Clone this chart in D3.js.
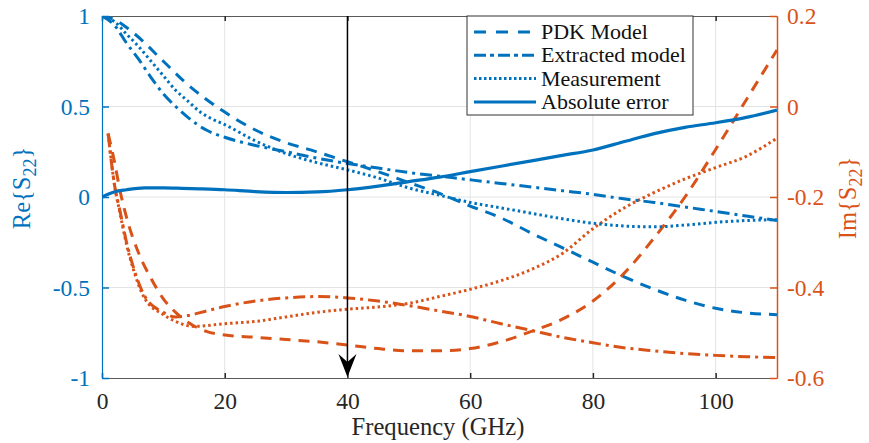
<!DOCTYPE html>
<html><head><meta charset="utf-8">
<script src="https://cdn.jsdelivr.net/npm/d3@7"></script>
<style>body{margin:0;background:#fff}svg{display:block}</style>
</head><body>
<svg id="c" width="869" height="443"></svg>
<script>
// ---- data ----
const xTicks = [0, 20, 40, 60, 80, 100];
const reTicks = [-1, -0.5, 0, 0.5, 1];
const imTicks = [-0.6, -0.4, -0.2, 0, 0.2];
const reTickLabels = ["-1", "-0.5", "0", "0.5", "1"];
const imTickLabels = ["-0.6", "-0.4", "-0.2", "0", "0.2"];
const legendLabels = ["PDK Model", "Extracted model", "Measurement", "Absolute error"];

// Re{S22}
const rePdkF = [0, 2, 5, 10, 13.5, 16.7, 19.5, 25, 30, 34, 40, 45, 50, 55, 60, 65, 70, 75, 80, 85, 90, 95, 100, 105, 110];
const rePdkV = [1.0, 0.98, 0.91, 0.75, 0.635, 0.547, 0.48, 0.37, 0.30, 0.26, 0.195, 0.14, 0.08, 0.02, -0.05, -0.115, -0.2, -0.28, -0.36, -0.44, -0.51, -0.57, -0.615, -0.64, -0.65];
const reExtF = [0, 2, 4, 6, 8, 10, 12, 14, 17, 20, 25, 30, 35, 40, 45, 50, 55, 60, 65, 70, 75, 80, 85, 90, 95, 100, 105, 110];
const reExtV = [1.0, 0.95, 0.85, 0.76, 0.66, 0.57, 0.5, 0.44, 0.37, 0.33, 0.285, 0.25, 0.215, 0.185, 0.16, 0.135, 0.115, 0.095, 0.075, 0.055, 0.035, 0.015, -0.01, -0.03, -0.055, -0.08, -0.105, -0.13];
const reMeasF = [0, 2, 4, 6, 8, 10, 12, 14, 16, 18, 20, 25, 30, 35, 40, 45, 50, 55, 60, 65, 70, 75, 80, 85, 90, 95, 100, 105, 110];
const reMeasV = [1.0, 0.97, 0.9, 0.83, 0.75, 0.67, 0.59, 0.53, 0.47, 0.43, 0.4, 0.31, 0.24, 0.19, 0.15, 0.105, 0.05, 0.01, -0.03, -0.06, -0.09, -0.12, -0.145, -0.16, -0.165, -0.155, -0.14, -0.13, -0.125];
const reErrF = [0, 1, 2, 4, 7, 10, 13, 16, 20, 25, 30, 35, 40, 45, 50, 55, 60, 65, 70, 75, 80, 85, 90, 95, 100, 105, 110];
const reErrV = [0.0, 0.015, 0.028, 0.04, 0.05, 0.05, 0.048, 0.045, 0.04, 0.03, 0.025, 0.028, 0.04, 0.06, 0.085, 0.11, 0.14, 0.17, 0.2, 0.23, 0.26, 0.305, 0.35, 0.385, 0.41, 0.44, 0.48];

// Im{S22}
const imPdkF = [1, 2, 3, 4, 6, 8, 10, 12, 14, 17, 20, 25, 30, 35, 40, 45, 50, 55, 60, 65, 70, 75, 80, 85, 90, 95, 100, 105, 110];
const imPdkV = [-0.06, -0.12, -0.19, -0.245, -0.325, -0.38, -0.425, -0.455, -0.477, -0.497, -0.505, -0.51, -0.515, -0.52, -0.527, -0.535, -0.54, -0.54, -0.535, -0.52, -0.497, -0.47, -0.43, -0.37, -0.29, -0.2, -0.095, 0.015, 0.125];
const imExtF = [1, 2, 3, 4, 5, 7, 10, 12, 14, 17, 20, 25, 30, 35, 40, 45, 50, 55, 60, 65, 70, 75, 80, 85, 90, 95, 100, 105, 110];
const imExtV = [-0.06, -0.17, -0.235, -0.3, -0.35, -0.42, -0.455, -0.465, -0.462, -0.452, -0.442, -0.43, -0.423, -0.42, -0.423, -0.43, -0.44, -0.452, -0.464, -0.48, -0.495, -0.51, -0.522, -0.533, -0.54, -0.546, -0.55, -0.553, -0.555];
const imMeasF = [1, 2, 3, 4, 5, 7, 10, 12, 15, 20, 25, 30, 35, 40, 45, 50, 55, 60, 65, 70, 75, 80, 85, 90, 95, 100, 105, 110];
const imMeasV = [-0.06, -0.17, -0.24, -0.305, -0.355, -0.425, -0.46, -0.475, -0.486, -0.48, -0.475, -0.465, -0.455, -0.448, -0.443, -0.435, -0.42, -0.404, -0.385, -0.36, -0.325, -0.27, -0.225, -0.19, -0.16, -0.135, -0.11, -0.07];

// ---- drawing ----
const FONT = "'Liberation Serif', 'Times New Roman', 'DejaVu Serif', serif";
const FS = "23.5px", LFS = "24.5px";
const BLUE = "#0072BD", ORANGE = "#D95319";
const svg = d3.select("#c").style("font-family", FONT);
const x = d3.scaleLinear().domain([0, 110]).range([102, 777]);
const yL = d3.scaleLinear().domain([-1, 1]).range([378, 16]);
const yR = d3.scaleLinear().domain([-0.6, 0.2]).range([378, 16]);

svg.append("defs").append("clipPath").attr("id", "clip")
  .append("rect").attr("x", 102).attr("y", 16).attr("width", 675).attr("height", 362);

// grid
const grid = svg.append("g").attr("stroke", "#e3e3e3").attr("stroke-width", 1);
xTicks.slice(1).forEach(t => grid.append("line").attr("x1", x(t)).attr("x2", x(t)).attr("y1", 16).attr("y2", 378));
reTicks.slice(1, -1).forEach(t => grid.append("line").attr("x1", 102).attr("x2", 777).attr("y1", yL(t)).attr("y2", yL(t)));

function styleText(sel, color) {
  sel.style("font-family", FONT).style("font-size", FS).attr("fill", color);
}

// axes
const gB = svg.append("g").attr("transform", "translate(0,378)")
  .call(d3.axisBottom(x).tickValues(xTicks).tickSize(-5).tickSizeOuter(0).tickPadding(14).tickFormat(d3.format("d")));
const gT = svg.append("g").attr("transform", "translate(0,16)")
  .call(d3.axisTop(x).tickValues(xTicks).tickSize(-5).tickSizeOuter(0).tickFormat(""));
[gB, gT].forEach(g => { g.select(".domain").attr("stroke", "#5a5a5a").attr("stroke-width", 1.2); g.selectAll(".tick line").attr("stroke", "#262626").attr("stroke-width", 1.5); });
styleText(gB.selectAll("text"), "#262626");

const gL = svg.append("g").attr("transform", "translate(102,0)")
  .call(d3.axisLeft(yL).tickValues(reTicks).tickSize(-7).tickSizeOuter(0).tickPadding(12).tickFormat((d, i) => reTickLabels[i]));
gL.select(".domain").attr("stroke", BLUE).attr("stroke-width", 1.2);
gL.selectAll(".tick line").attr("stroke", BLUE).attr("stroke-width", 1.5);
styleText(gL.selectAll("text"), BLUE);

const gR = svg.append("g").attr("transform", "translate(777,0)")
  .call(d3.axisRight(yR).tickValues(imTicks).tickSize(-7).tickSizeOuter(0).tickPadding(10).tickFormat((d, i) => imTickLabels[i]));
gR.select(".domain").attr("stroke", ORANGE).attr("stroke-width", 1.5);
gR.selectAll(".tick line").attr("stroke", ORANGE).attr("stroke-width", 1.5);
styleText(gR.selectAll("text"), ORANGE);

// series
const DASH = "11,8", DASHDOT = "12,5,3,5", DOT = "2.5,3";
const plot = svg.append("g").attr("clip-path", "url(#clip)");
function draw(F, V, y, color, dash, w) {
  const pts = F.map((f, i) => [f, V[i]]);
  plot.append("path").datum(pts)
    .attr("d", d3.line().x(d => x(d[0])).y(d => y(d[1])).curve(d3.curveMonotoneX))
    .attr("fill", "none").attr("stroke", color).attr("stroke-width", w || 3)
    .attr("stroke-dasharray", dash);
}
draw(imPdkF, imPdkV, yR, ORANGE, DASH);
draw(imExtF, imExtV, yR, ORANGE, DASHDOT);
draw(imMeasF, imMeasV, yR, ORANGE, DOT);
draw(rePdkF, rePdkV, yL, BLUE, DASH);
draw(reExtF, reExtV, yL, BLUE, DASHDOT);
draw(reMeasF, reMeasV, yL, BLUE, DOT);
draw(reErrF, reErrV, yL, BLUE, null, 3.2);

// arrow at 40 GHz
const ax = x(40);
svg.append("line").attr("x1", ax).attr("x2", ax).attr("y1", 16).attr("y2", 370)
  .attr("stroke", "#000").attr("stroke-width", 1.5);
svg.append("path")
  .attr("d", `M${ax},377 L${ax - 9},354 L${ax},362 L${ax + 9},354 Z`).attr("fill", "#000");

// legend
const lg = svg.append("g");
lg.append("rect").attr("x", 467).attr("y", 16).attr("width", 226).attr("height", 99)
  .attr("fill", "#fff").attr("stroke", "#333").attr("stroke-width", 1);
const legDash = ["12,10", "12,4,4,4", "2.5,2.5", null];
legendLabels.forEach((lab, i) => {
  const yy = 32 + i * 23.3;
  lg.append("line").attr("x1", 474).attr("x2", 536).attr("y1", yy).attr("y2", yy)
    .attr("stroke", BLUE).attr("stroke-width", 3).attr("stroke-dasharray", legDash[i]);
  lg.append("text").attr("x", 541).attr("y", yy + 7).style("font-family", FONT).style("font-size", "22px")
    .attr("fill", "#111").text(lab);
});

// axis labels
svg.append("text").attr("x", 438).attr("y", 435).attr("text-anchor", "middle")
  .attr("textLength", 173).attr("lengthAdjust", "spacingAndGlyphs")
  .style("font-family", FONT).style("font-size", LFS).attr("fill", "#262626").text("Frequency (GHz)");
function subLabel(tx, ty, pre, color) {
  const t = svg.append("text").attr("transform", `translate(${tx},${ty}) rotate(-90)`)
    .attr("text-anchor", "middle").style("font-family", FONT).style("font-size", LFS).attr("fill", color);
  t.append("tspan").text(pre + "{S");
  t.append("tspan").style("font-size", "18px").attr("dy", 6).text("22");
  t.append("tspan").attr("dy", -6).text("}");
}
subLabel(30, 188, "Re", BLUE);
subLabel(856, 198, "Im", ORANGE);
</script>
</body></html>
